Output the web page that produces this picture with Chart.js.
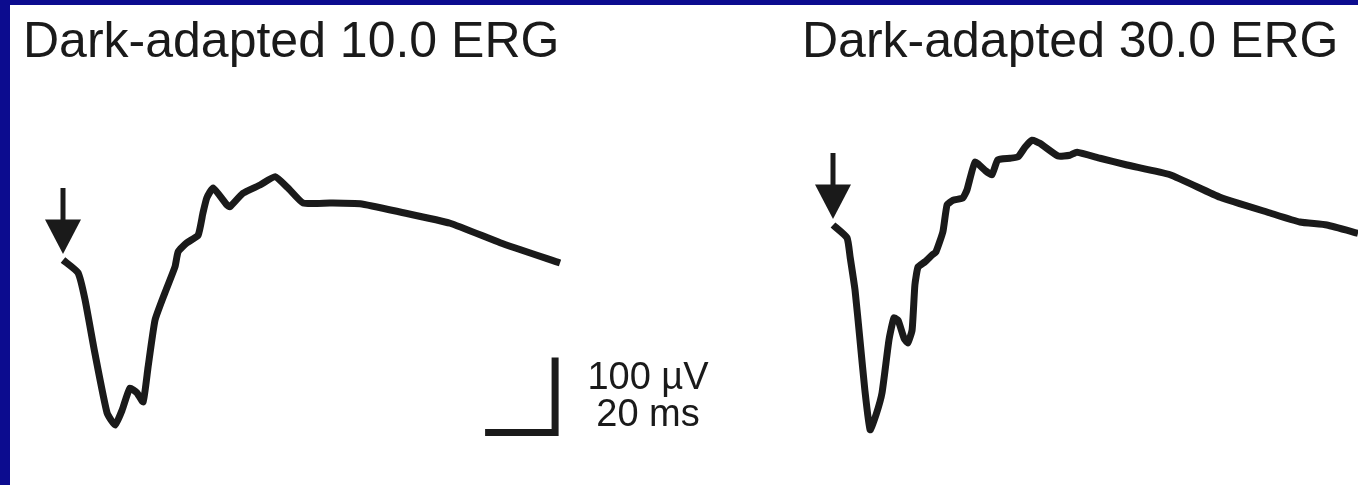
<!DOCTYPE html>
<html>
<head>
<meta charset="utf-8">
<script src="https://cdn.jsdelivr.net/npm/chart.js@4"></script>
<style>
	body { margin: 0; background: #fff; }
	#page { position: relative; width: 1358px; height: 485px; overflow: hidden; background: #fff; font-family: "Liberation Sans", Arial, sans-serif; color: #1a1a1a; }
	#page canvas { position: absolute; top: 0; }
	.edge { position: absolute; background: #0c0c8f; z-index: 5; }
	.title { position: absolute; top: 15px; font-size: 50px; line-height: 50px; white-space: nowrap; z-index: 4; }
	.bar-label { position: absolute; width: 160px; text-align: center; font-size: 38px; line-height: 38px; white-space: nowrap; z-index: 4; }
</style>
</head>
<body>
<div id="page">
	<canvas id="erg-left" width="680" height="485" style="left:0"></canvas>
	<canvas id="erg-right" width="678" height="485" style="left:680px"></canvas>
	<div class="edge" style="left:0;top:0;width:1358px;height:5px"></div>
	<div class="edge" style="left:0;top:0;width:10px;height:485px"></div>
	<div class="title" id="title-left" style="left:23px"></div>
	<div class="title" id="title-right" style="left:802px"></div>
	<div class="bar-label" id="bar-uv" style="left:568px;top:357px"></div>
	<div class="bar-label" id="bar-ms" style="left:568px;top:394px"></div>
</div>
<script>
	// traces: time after flash (ms), amplitude (µV)
	const titles = ['Dark-adapted 10.0 ERG', 'Dark-adapted 30.0 ERG'];

	const leftTimeMs = [0, 4.3, 6.3, 9.1, 12.6, 14.9, 16.9, 19.1, 21.1, 22.9, 24.3, 26.3, 29.1, 32, 32.9, 35.4, 38.6, 40, 41.1, 42.9, 46.9, 47.7, 51.4, 56.3, 60.6, 64.3, 68.6, 76.3, 84.9, 96.3, 110.6, 124.9, 142];
	const leftUv = [0, -17, -53, -124, -204, -220, -200, -171, -177, -189, -143, -80, -44, -9, 11, 23, 33, 63, 83, 96, 73, 71, 89, 100, 111, 96, 76, 76, 75, 64, 49, 23, -4];

	const rightTimeMs = [0, 4, 4.9, 6.3, 7.7, 9.1, 10.6, 12.3, 14, 16, 17.4, 18.6, 20.3, 21.4, 22.6, 23.4, 24.3, 26.3, 28.3, 29.4, 31.4, 32.6, 34.3, 37.1, 38.3, 40.6, 43.4, 45.4, 47.1, 50.6, 52.9, 54.9, 56.9, 59.1, 64.3, 67.7, 69.7, 76.3, 84, 96.3, 110.6, 124.9, 133.4, 141.1, 150];
	const rightUv = [0, -17, -43, -87, -153, -220, -273, -253, -224, -153, -124, -127, -151, -157, -140, -80, -56, -49, -40, -36, -9, 27, 33, 36, 47, 84, 73, 67, 87, 89, 91, 104, 113, 109, 92, 93, 97, 89, 80, 67, 37, 16, 4, 0, -11];

	const scaleBarUv = 100;
	const scaleBarMs = 20;
	const scaleBarLabels = ['100 µV', '20 ms'];

	// drawing scale: pixels per ms and per µV, and where each flash sits on the page
	const pxPerMs = 3.5,
		pxPerUv = 0.75,
		pageH = 485;

	const toPoints = (xs, ys) => xs.map((x, i) => ({ x, y: ys[i] }));

	const stimulusArrow = {
		id: 'stimulusArrow',
		afterDatasetsDraw(chart) {
			const { ctx, scales: { x, y } } = chart,
				px = x.getPixelForValue(0);
			ctx.save();
			ctx.strokeStyle = '#1a1a1a';
			ctx.fillStyle = '#1a1a1a';
			ctx.lineWidth = 5;
			ctx.beginPath();
			ctx.moveTo(px, y.getPixelForValue(96));
			ctx.lineTo(px, y.getPixelForValue(50));
			ctx.stroke();
			ctx.beginPath();
			ctx.moveTo(px - 18, y.getPixelForValue(54));
			ctx.lineTo(px + 18, y.getPixelForValue(54));
			ctx.lineTo(px, y.getPixelForValue(8));
			ctx.closePath();
			ctx.fill();
			ctx.restore();
		}
	};

	function newErg({ canvasId, left, width, originX, originY, datasets }) {
		const ctx = document.getElementById(canvasId).getContext('2d');
		return new Chart(ctx, {
			type: 'line',
			data: {
				datasets: datasets.map(d => Object.assign({
					borderColor: '#1a1a1a',
					borderWidth: 7,
					pointRadius: 0,
					tension: 0.15,
					borderJoinStyle: 'round',
					borderCapStyle: 'butt',
					fill: false
				}, d))
			},
			options: {
				responsive: false,
				devicePixelRatio: 1,
				animation: false,
				layout: { padding: 0 },
				plugins: { legend: { display: false }, tooltip: { enabled: false } },
				scales: {
					x: {
						type: 'linear',
						display: false,
						min: (left - originX) / pxPerMs,
						max: (left + width - originX) / pxPerMs
					},
					y: {
						type: 'linear',
						display: false,
						min: (originY - pageH) / pxPerUv,
						max: originY / pxPerUv
					}
				}
			},
			plugins: [stimulusArrow]
		});
	}

	const barStartMs = 120.6,
		barBaseUv = -230;

	newErg({
		canvasId: 'erg-left',
		left: 0,
		width: 680,
		originX: 63,
		originY: 260,
		datasets: [{
			data: toPoints(leftTimeMs, leftUv)
		}, {
			data: [
				{ x: barStartMs, y: barBaseUv },
				{ x: barStartMs + scaleBarMs, y: barBaseUv },
				{ x: barStartMs + scaleBarMs, y: barBaseUv + scaleBarUv }
			],
			tension: 0,
			borderJoinStyle: 'miter'
		}]
	});

	newErg({
		canvasId: 'erg-right',
		left: 680,
		width: 678,
		originX: 833,
		originY: 225,
		datasets: [{
			data: toPoints(rightTimeMs, rightUv)
		}]
	});

	document.getElementById('title-left').textContent = titles[0];
	document.getElementById('title-right').textContent = titles[1];
	document.getElementById('bar-uv').textContent = scaleBarLabels[0];
	document.getElementById('bar-ms').textContent = scaleBarLabels[1];
</script>
</body>
</html>
